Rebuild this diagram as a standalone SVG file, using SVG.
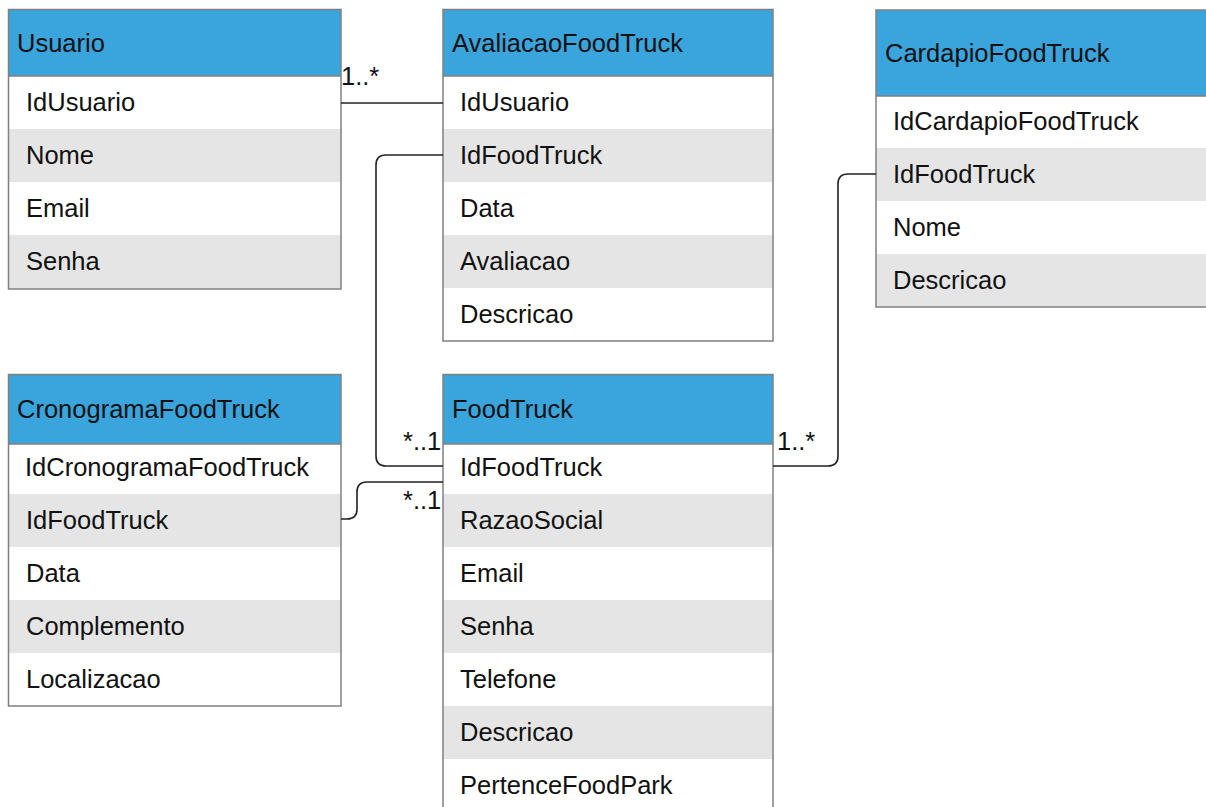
<svg xmlns="http://www.w3.org/2000/svg" width="1206" height="807" viewBox="0 0 1206 807">
<style>
.hd{fill:#3aa4dc}
.wr{fill:#ffffff}
.gr{fill:#e5e5e5}
.bd{fill:none;stroke:#808080;stroke-width:1.5}
.sep{stroke:#808080;stroke-width:1.5}
text{font-family:"Liberation Sans",Arial,sans-serif;font-size:25.5px;fill:#111}
.cn{fill:none;stroke:#222;stroke-width:1.6}
</style>
<rect width="1206" height="807" fill="#ffffff"/>

<g id="Usuario">
<rect class="hd" x="8.5" y="9.5" width="332.5" height="66.5"/>
<rect class="wr" x="8.5" y="76" width="332.5" height="53"/>
<rect class="gr" x="8.5" y="129" width="332.5" height="53"/>
<rect class="wr" x="8.5" y="182" width="332.5" height="53"/>
<rect class="gr" x="8.5" y="235" width="332.5" height="54"/>
<line class="sep" x1="8.5" y1="76" x2="341" y2="76"/>
<rect class="bd" x="8.5" y="9.5" width="332.5" height="279.5"/>
<text x="17" y="52">Usuario</text>
<text x="26" y="111">IdUsuario</text>
<text x="26" y="164">Nome</text>
<text x="26" y="217">Email</text>
<text x="26" y="270">Senha</text>
</g>

<g id="AvaliacaoFoodTruck">
<rect class="hd" x="443" y="9.5" width="330" height="66.5"/>
<rect class="wr" x="443" y="76" width="330" height="53"/>
<rect class="gr" x="443" y="129" width="330" height="53"/>
<rect class="wr" x="443" y="182" width="330" height="53"/>
<rect class="gr" x="443" y="235" width="330" height="53"/>
<rect class="wr" x="443" y="288" width="330" height="53"/>
<line class="sep" x1="443" y1="76" x2="773" y2="76"/>
<rect class="bd" x="443" y="9.5" width="330" height="331.5"/>
<text x="452" y="52">AvaliacaoFoodTruck</text>
<text x="460" y="111">IdUsuario</text>
<text x="460" y="164">IdFoodTruck</text>
<text x="460" y="217">Data</text>
<text x="460" y="270">Avaliacao</text>
<text x="460" y="323">Descricao</text>
</g>

<g id="CardapioFoodTruck">
<rect class="hd" x="876" y="10" width="340" height="86"/>
<rect class="wr" x="876" y="96" width="340" height="52"/>
<rect class="gr" x="876" y="148" width="340" height="53"/>
<rect class="wr" x="876" y="201" width="340" height="53"/>
<rect class="gr" x="876" y="254" width="340" height="53"/>
<line class="sep" x1="876" y1="96" x2="1216" y2="96"/>
<rect class="bd" x="876" y="10" width="340" height="297"/>
<text x="885" y="62">CardapioFoodTruck</text>
<text x="893" y="130">IdCardapioFoodTruck</text>
<text x="893" y="183">IdFoodTruck</text>
<text x="893" y="236">Nome</text>
<text x="893" y="289">Descricao</text>
</g>

<g id="CronogramaFoodTruck">
<rect class="hd" x="8.5" y="374.5" width="332.5" height="69.5"/>
<rect class="wr" x="8.5" y="444" width="332.5" height="50"/>
<rect class="gr" x="8.5" y="494" width="332.5" height="53"/>
<rect class="wr" x="8.5" y="547" width="332.5" height="53"/>
<rect class="gr" x="8.5" y="600" width="332.5" height="53"/>
<rect class="wr" x="8.5" y="653" width="332.5" height="53"/>
<line class="sep" x1="8.5" y1="444" x2="341" y2="444"/>
<rect class="bd" x="8.5" y="374.5" width="332.5" height="331.5"/>
<text x="17" y="418">CronogramaFoodTruck</text>
<text x="25" y="476">IdCronogramaFoodTruck</text>
<text x="26" y="529">IdFoodTruck</text>
<text x="26" y="582">Data</text>
<text x="26" y="635">Complemento</text>
<text x="26" y="688">Localizacao</text>
</g>

<g id="FoodTruck">
<rect class="hd" x="443" y="374.5" width="330" height="69.5"/>
<rect class="wr" x="443" y="444" width="330" height="50"/>
<rect class="gr" x="443" y="494" width="330" height="53"/>
<rect class="wr" x="443" y="547" width="330" height="53"/>
<rect class="gr" x="443" y="600" width="330" height="53"/>
<rect class="wr" x="443" y="653" width="330" height="53"/>
<rect class="gr" x="443" y="706" width="330" height="53"/>
<rect class="wr" x="443" y="759" width="330" height="60"/>
<line class="sep" x1="443" y1="444" x2="773" y2="444"/>
<rect class="bd" x="443" y="374.5" width="330" height="445"/>
<text x="452" y="418">FoodTruck</text>
<text x="460" y="476">IdFoodTruck</text>
<text x="460" y="529">RazaoSocial</text>
<text x="460" y="582">Email</text>
<text x="460" y="635">Senha</text>
<text x="460" y="688">Telefone</text>
<text x="460" y="741">Descricao</text>
<text x="460" y="794">PertenceFoodPark</text>
</g>

<g id="connectors">
<path class="cn" d="M341,103 H443"/>
<path class="cn" d="M443,155 H386 Q376,155 376,165 V456 Q376,466 386,466 H443"/>
<path class="cn" d="M341,519 H347 Q357,519 357,509 V492 Q357,482 367,482 H443"/>
<path class="cn" d="M773,466 H828 Q838,466 838,456 V184 Q838,174 848,174 H876"/>
<text x="341" y="85">1..*</text>
<text x="403" y="450">*..1</text>
<text x="403" y="509">*..1</text>
<text x="777" y="450">1..*</text>
</g>
</svg>
